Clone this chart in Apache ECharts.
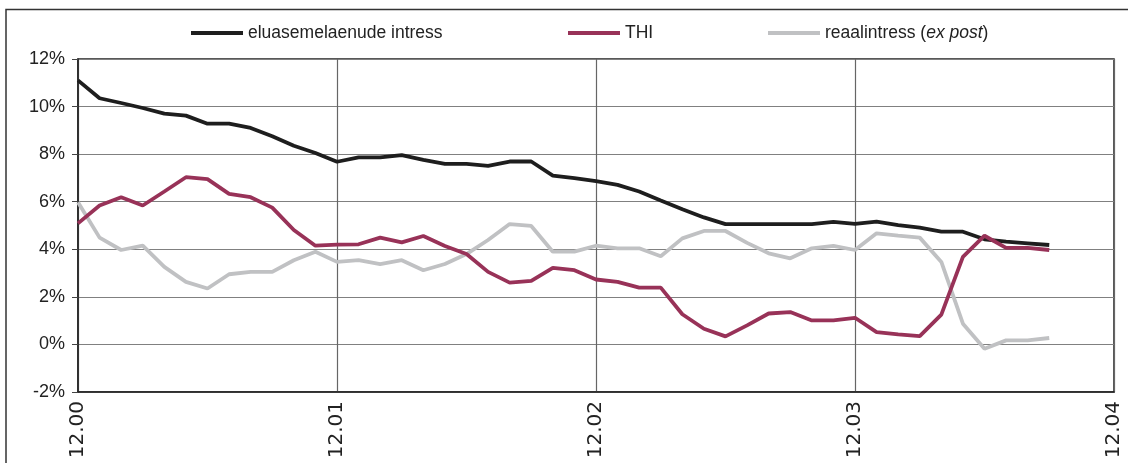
<!DOCTYPE html>
<html>
<head>
<meta charset="utf-8">
<script src="https://cdn.jsdelivr.net/npm/echarts@6/dist/echarts.min.js"></script>
<style>
  html, body { margin: 0; padding: 0; background: #fff; }
  #chart { width: 1128px; height: 463px; }
</style>
</head>
<body>
<div id="chart"></div>
<script>
// months, MM.YY
const months = [
  '12.00',
  '01.01', '02.01', '03.01', '04.01', '05.01', '06.01', '07.01', '08.01', '09.01', '10.01', '11.01', '12.01',
  '01.02', '02.02', '03.02', '04.02', '05.02', '06.02', '07.02', '08.02', '09.02', '10.02', '11.02', '12.02',
  '01.03', '02.03', '03.03', '04.03', '05.03', '06.03', '07.03', '08.03', '09.03', '10.03', '11.03', '12.03',
  '01.04', '02.04', '03.04', '04.04', '05.04', '06.04', '07.04', '08.04', '09.04', '10.04', '11.04', '12.04'
];

const loanRate = [
  11.1, 10.35, 10.15, 9.94, 9.7, 9.62, 9.28, 9.28, 9.1, 8.75, 8.35, 8.05,
  7.68, 7.86, 7.86, 7.96, 7.76, 7.59, 7.59, 7.51, 7.69, 7.69, 7.1, 6.99,
  6.87, 6.71, 6.43, 6.05, 5.68, 5.34, 5.06, 5.06, 5.06, 5.06, 5.06, 5.15,
  5.07, 5.16, 5.02, 4.91, 4.74, 4.74, 4.42, 4.32, 4.25, 4.18
];

const thi = [
  5.09, 5.84, 6.19, 5.84, 6.43, 7.03, 6.95, 6.33, 6.19, 5.75, 4.81, 4.15,
  4.2, 4.21, 4.49, 4.29, 4.56, 4.14, 3.8, 3.05, 2.6, 2.67, 3.22, 3.12,
  2.73, 2.63, 2.39, 2.39, 1.27, 0.66, 0.34, 0.8, 1.3, 1.36, 1.01, 1.01,
  1.12, 0.52, 0.42, 0.35, 1.25, 3.68, 4.57, 4.06, 4.06, 3.97
];

const realRate = [
  5.98, 4.49, 3.97, 4.15, 3.26, 2.63, 2.35, 2.95, 3.05, 3.05, 3.54, 3.9,
  3.47, 3.54, 3.38, 3.54, 3.12, 3.38, 3.8, 4.39, 5.06, 4.98, 3.9, 3.9,
  4.15, 4.04, 4.04, 3.71, 4.46, 4.77, 4.77, 4.27, 3.83, 3.62, 4.04, 4.14,
  3.97, 4.67, 4.57, 4.49, 3.47, 0.87, -0.18, 0.17, 0.17, 0.27
];

const names = ['eluasemelaenude intress', 'THI', 'reaalintress (ex post)'];
const colors = ['#1e1e1e', '#983258', '#c0c1c3'];

const chart = echarts.init(document.getElementById('chart'), null, { renderer: 'canvas' });

const legendBase = {
  top: 19,
  itemWidth: 52,
  itemHeight: 4,
  itemGap: 0,
  icon: 'rect',
  textStyle: {
    fontFamily: 'Liberation Sans',
    fontSize: 17.5,
    color: '#222',
    rich: { i: { fontStyle: 'italic', fontFamily: 'Liberation Sans', fontSize: 17.5, color: '#222' } }
  },
  formatter: (name) => name === names[2] ? 'reaalintress ({i|ex post})' : name
};

chart.setOption({
  backgroundColor: '#ffffff',
  animation: false,
  color: colors,
  graphic: [{
    type: 'rect',
    shape: { x: 6, y: 9.5, width: 1140, height: 470 },
    style: { fill: 'none', stroke: '#333', lineWidth: 1.5 },
    z: 100
  }],
  legend: [
    Object.assign({}, legendBase, { left: 186, data: [names[0]] }),
    Object.assign({}, legendBase, { left: 563, data: [names[1]] }),
    Object.assign({}, legendBase, { left: 763, data: [names[2]] })
  ],
  grid: {
    left: 78,
    right: 14,
    top: 59,
    bottom: 71,
    show: true,
    borderColor: '#222',
    borderWidth: 1.5
  },
  xAxis: {
    type: 'category',
    data: months,
    boundaryGap: false,
    axisLine: { onZero: false, lineStyle: { color: '#222', width: 1.5 } },
    axisTick: { show: false },
    axisLabel: {
      interval: 11,
      rotate: 90,
      margin: 9,
      fontFamily: 'DejaVu Sans',
      fontSize: 20,
      color: '#222'
    },
    splitLine: {
      show: true,
      interval: 11,
      lineStyle: { color: '#666', width: 1.2 }
    }
  },
  yAxis: {
    type: 'value',
    min: -2,
    max: 12,
    interval: 2,
    axisLine: { show: true, lineStyle: { color: '#222', width: 1.5 } },
    axisTick: { show: true, length: 6, lineStyle: { color: '#444' } },
    axisLabel: {
      formatter: '{value}%',
      margin: 13,
      fontFamily: 'Liberation Sans',
      fontSize: 18,
      color: '#222'
    },
    splitLine: { lineStyle: { color: '#808080', width: 1.2 } }
  },
  series: [
    { name: names[0], type: 'line', data: loanRate, symbol: 'none', lineStyle: { width: 3.8, color: colors[0] }, z: 3 },
    { name: names[1], type: 'line', data: thi, symbol: 'none', lineStyle: { width: 3.8, color: colors[1] }, z: 4 },
    { name: names[2], type: 'line', data: realRate, symbol: 'none', lineStyle: { width: 3.8, color: colors[2] }, z: 2 }
  ]
});
</script>
</body>
</html>
